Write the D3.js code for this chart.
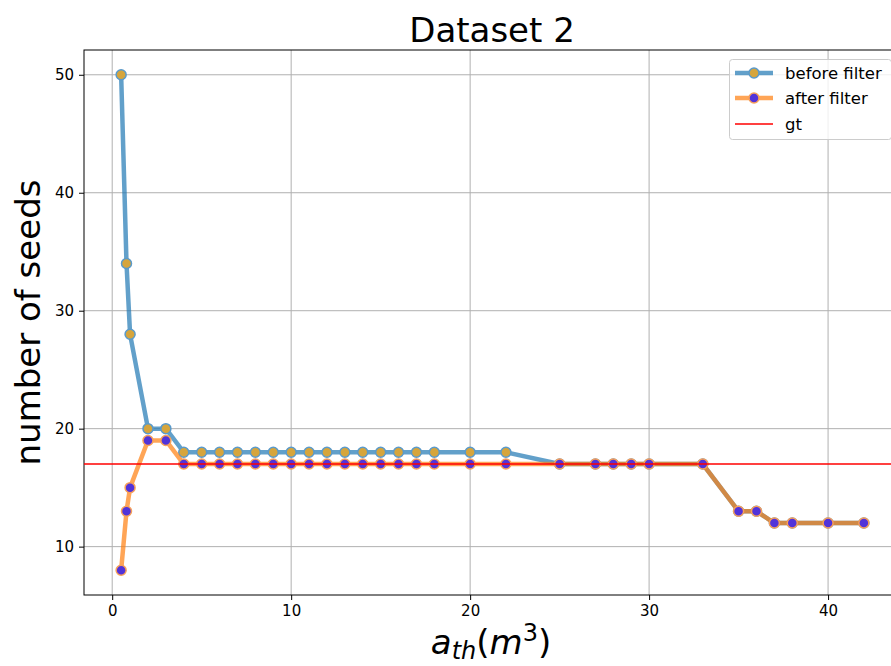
<!DOCTYPE html>
<html>
<head>
<meta charset="utf-8">
<script src="https://cdn.jsdelivr.net/npm/d3@7"></script>
<style>
  body { margin: 0; background: #fff; }
  svg { display: block; font-family: "DejaVu Sans", sans-serif; }
</style>
</head>
<body>
<svg id="chart" width="891" height="666"></svg>
<script>
// Threshold values (m^3)
const thresholds = [0.5, 0.8, 1, 2, 3, 4, 5, 6, 7, 8, 9, 10, 11, 12, 13, 14, 15, 16, 17, 18, 20, 22, 25, 27, 28, 29, 30, 33, 35, 36, 37, 38, 40, 42];
// Seed counts before and after filtering
const beforeFilter = [50, 34, 28, 20, 20, 18, 18, 18, 18, 18, 18, 18, 18, 18, 18, 18, 18, 18, 18, 18, 18, 18, 17, 17, 17, 17, 17, 17, 13, 13, 12, 12, 12, 12];
const afterFilter  = [8, 13, 15, 19, 19, 17, 17, 17, 17, 17, 17, 17, 17, 17, 17, 17, 17, 17, 17, 17, 17, 17, 17, 17, 17, 17, 17, 17, 13, 13, 12, 12, 12, 12];
const groundTruth = 17;
const xTicks = [0, 10, 20, 30, 40];
const yTicks = [10, 20, 30, 40, 50];
const seriesNames = ["before filter", "after filter", "gt"];

const svg = d3.select("#chart");
const plot = { left: 84, top: 50, right: 901, bottom: 595 };

const x = d3.scaleLinear().domain([-1.575, 44.075]).range([plot.left, plot.right]);
const y = d3.scaleLinear().domain([5.9, 52.1]).range([plot.bottom, plot.top]);

// grid
const grid = svg.append("g").attr("stroke", "#b0b0b0").attr("stroke-width", 1);
xTicks.forEach(t => grid.append("line")
  .attr("x1", x(t)).attr("x2", x(t)).attr("y1", plot.top).attr("y2", plot.bottom));
yTicks.forEach(t => grid.append("line")
  .attr("x1", plot.left).attr("x2", plot.right).attr("y1", y(t)).attr("y2", y(t)));

// axes
const xAxis = svg.append("g").attr("transform", `translate(0,${plot.bottom})`)
  .call(d3.axisBottom(x).tickValues(xTicks).tickSize(5).tickPadding(5).tickFormat(d3.format("d")));
const yAxis = svg.append("g").attr("transform", `translate(${plot.left},0)`)
  .call(d3.axisLeft(y).tickValues(yTicks).tickSize(5).tickPadding(5).tickFormat(d3.format("d")));
[xAxis, yAxis].forEach(a => {
  a.attr("font-size", 15).attr("font-family", "DejaVu Sans");
  a.selectAll("text").attr("fill", "#000");
  a.selectAll("line").attr("stroke", "#000").attr("stroke-width", 1);
  a.select(".domain").remove();
});

// frame
svg.append("rect").attr("x", plot.left).attr("y", plot.top)
  .attr("width", plot.right - plot.left).attr("height", plot.bottom - plot.top)
  .attr("fill", "none").attr("stroke", "#000").attr("stroke-width", 1);

const styles = [
  { values: beforeFilter, line: "#1f77b4", face: "#d6a53c", edge: "#5a9acb" },
  { values: afterFilter,  line: "#ff7f0e", face: "#5133d9", edge: "#f7a05a" }
];

const lineGen = d3.line().x(d => x(d[0])).y(d => y(d[1]));

styles.forEach(s => {
  const pts = thresholds.map((t, i) => [t, s.values[i]]);
  svg.append("path").datum(pts).attr("d", lineGen)
    .attr("fill", "none").attr("stroke", s.line).attr("stroke-opacity", 0.7)
    .attr("stroke-width", 4.5).attr("stroke-linejoin", "round");
  svg.append("g").selectAll("circle").data(pts).join("circle")
    .attr("cx", d => x(d[0])).attr("cy", d => y(d[1])).attr("r", 5)
    .attr("fill", s.face).attr("stroke", s.edge).attr("stroke-width", 1.5);
});

// ground truth line
svg.append("line").attr("x1", plot.left).attr("x2", plot.right)
  .attr("y1", y(groundTruth)).attr("y2", y(groundTruth))
  .attr("stroke", "#ff0000").attr("stroke-width", 1.4);

// legend
const lg = svg.append("g");
lg.append("rect").attr("x", 729.5).attr("y", 59.5).attr("width", 162).attr("height", 80)
  .attr("rx", 3).attr("fill", "#fff").attr("fill-opacity", 0.8)
  .attr("stroke", "#cccccc").attr("stroke-width", 1);
const rows = [73, 98, 124];
styles.forEach((s, i) => {
  lg.append("line").attr("x1", 735).attr("x2", 773).attr("y1", rows[i]).attr("y2", rows[i])
    .attr("stroke", s.line).attr("stroke-opacity", 0.7).attr("stroke-width", 4.5);
  lg.append("circle").attr("cx", 754).attr("cy", rows[i]).attr("r", 5)
    .attr("fill", s.face).attr("stroke", s.edge).attr("stroke-width", 1.5);
});
lg.append("line").attr("x1", 735).attr("x2", 773).attr("y1", rows[2]).attr("y2", rows[2])
  .attr("stroke", "#ff0000").attr("stroke-width", 1.4);
seriesNames.forEach((n, i) => {
  lg.append("text").attr("x", 785).attr("y", rows[i]).attr("dy", "0.35em")
    .attr("font-size", 16.5).text(n);
});

// title
svg.append("text").attr("x", 492).attr("y", 42).attr("text-anchor", "middle")
  .attr("font-size", 34).text("Dataset 2");

// y label
svg.append("text").attr("transform", `translate(40,${(plot.top + plot.bottom) / 2}) rotate(-90)`)
  .attr("text-anchor", "middle").attr("font-size", 34).text("number of seeds");

// x label: a_th(m^3)
const xl = svg.append("text").attr("x", 491).attr("y", 654).attr("text-anchor", "middle")
  .attr("font-size", 34);
xl.append("tspan").attr("font-style", "italic").text("a");
xl.append("tspan").attr("font-style", "italic").attr("font-size", 24).attr("dy", 5).text("th");
xl.append("tspan").attr("dy", -5).text("(");
xl.append("tspan").attr("font-style", "italic").text("m");
xl.append("tspan").attr("font-size", 24).attr("dy", -13).text("3");
xl.append("tspan").attr("dy", 13).text(")");
</script>
</body>
</html>
